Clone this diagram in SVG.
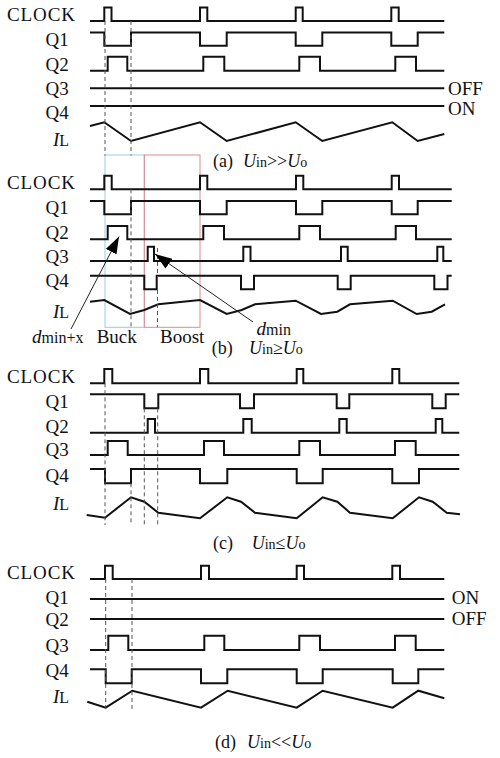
<svg xmlns="http://www.w3.org/2000/svg" width="500" height="758" viewBox="0 0 500 758">
<style>
.sig{fill:none;stroke:#111;stroke-width:2;stroke-linejoin:miter}
.dash{fill:none;stroke:#555;stroke-width:1;stroke-dasharray:4 3}
.lbl{font-family:"Liberation Serif","Times New Roman",serif;font-size:19px;fill:#111}
.cap{font-family:"Liberation Serif","Times New Roman",serif;font-size:18px;fill:#111}
.it{font-style:italic}
.sub{font-size:14px}
.lead{fill:none;stroke:#222;stroke-width:1}
</style>
<defs>
<marker id="ah" viewBox="0 0 17 12" refX="17" refY="6" markerWidth="17" markerHeight="12" markerUnits="userSpaceOnUse" orient="auto">
<path d="M0,0 L17,6 L0,12 Z" fill="#000"/>
</marker>
</defs>
<rect width="500" height="758" fill="#fff"/>

<!-- Panel (a) -->
<g id="panel-a">
<g id="a-labels">
<text class="lbl" x="7" y="20.7" textLength="68">CLOCK</text>
<text class="lbl" x="45.5" y="45.7">Q1</text>
<text class="lbl" x="45.5" y="70.7">Q2</text>
<text class="lbl" x="45.5" y="95">Q3</text>
<text class="lbl" x="45.5" y="119">Q4</text>
<text class="lbl" x="53" y="146"><tspan class="it">I</tspan><tspan font-size="16">L</tspan></text>
<text class="lbl" x="448" y="94.5">OFF</text>
<text class="lbl" x="448" y="115">ON</text>
</g>
<g id="a-signals">
<path class="sig" d="M90,21 H104.3 V7.5 H111.5 V21 H200 V7.5 H207.3 V21 H295.7 V7.5 H302.7 V21 H391.3 V7.5 H398.7 V21 H444.3"/>
<path class="sig" d="M90,32.5 H104.3 V45.7 H131 V32.5 H200 V45.7 H226.7 V32.5 H295.7 V45.7 H322.3 V32.5 H391.3 V45.7 H417.7 V32.5 H444.3"/>
<path class="sig" d="M90,70.7 H107.7 V56.7 H127.3 V70.7 H203.3 V56.7 H224.3 V70.7 H299.3 V56.7 H320 V70.7 H395.3 V56.7 H416 V70.7 H444.3"/>
<path class="sig" d="M90,88.3 H444.3"/>
<path class="sig" d="M90,106 H444.3"/>
<path class="sig" d="M90,126 L104.3,122.3 L131,141 L200,122.3 L226.7,141 L295.7,122.3 L322.3,141 L392.3,122.3 L417.7,141 L444.3,134"/>
</g>
<g id="a-dashes">
<path class="dash" d="M105,21 V156 M131,21 V156"/>
</g>
<text class="cap" x="213" y="167">(a)</text>
<text class="cap" x="243" y="167"><tspan class="it">U</tspan><tspan class="sub">in</tspan>&gt;&gt;<tspan class="it">U</tspan><tspan class="sub">o</tspan></text>
</g>

<!-- Panel (b) -->
<g id="panel-b">
<g id="b-boxes">
<rect x="105" y="155" width="39.3" height="172.3" fill="none" stroke="#9cc9e6" stroke-width="1"/>
<rect x="144.3" y="155" width="55.7" height="172.3" fill="none" stroke="#e08a8a" stroke-width="1"/>
</g>
<g id="b-labels">
<text class="lbl" x="7" y="189.3" textLength="68">CLOCK</text>
<text class="lbl" x="45.5" y="214.3">Q1</text>
<text class="lbl" x="45.5" y="239.3">Q2</text>
<text class="lbl" x="45.5" y="262.5">Q3</text>
<text class="lbl" x="45.5" y="286.5">Q4</text>
<text class="lbl" x="53" y="318"><tspan class="it">I</tspan><tspan font-size="16">L</tspan></text>
<text class="lbl" x="32" y="342.7"><tspan class="it">d</tspan><tspan font-size="16">min+x</tspan></text>
<text class="lbl" x="96.7" y="342.7">Buck</text>
<text class="lbl" x="160" y="342.7">Boost</text>
<text class="lbl" x="256.5" y="335"><tspan class="it">d</tspan><tspan font-size="16">min</tspan></text>
</g>
<g id="b-signals">
<path class="sig" d="M90,189.3 H104.3 V175.7 H111.7 V189.3 H200 V175.7 H207.3 V189.3 H296 V175.7 H303.3 V189.3 H391.7 V175.7 H399 V189.3 H451.7"/>
<path class="sig" d="M90,201 H104.3 V214.3 H131 V201 H200 V214.3 H226.7 V201 H296 V214.3 H322.3 V201 H391.7 V214.3 H417.7 V201 H451.7"/>
<path class="sig" d="M90,239.3 H107.7 V226 H127.3 V239.3 H203.3 V226 H224 V239.3 H299.3 V226 H320 V239.3 H395.7 V226 H416 V239.3 H451.7"/>
<path class="sig" d="M90,261 H147.7 V246.7 H154 V261 H243.3 V246.7 H250.5 V261 H341 V246.7 H347.7 V261 H437.3 V246.7 H443.3 V261 H451.7"/>
<path class="sig" d="M90,275.7 H144.3 V289.3 H156.7 V275.7 H241 V289.3 H254 V275.7 H337.7 V289.3 H350.7 V275.7 H434.3 V289.3 H447.5 V275.7 H451.7"/>
<path class="sig" d="M90,301.7 L104.3,300 L130,314 L144.3,310 L158.3,304.3 L200,300 L226.7,314 L241.7,310 L255,304.3 L295.7,300.7 L321,314 L337.3,311.7 L350,304.3 L392.7,300.7 L416.7,314 L431.7,311.7 L445,304.3"/>
</g>
<g id="b-dashes">
<path class="dash" d="M131,189.3 V327 M157.5,248 V327"/>
</g>
<g id="b-arrows">
<line class="lead" x1="71" y1="329" x2="119" y2="236.5" marker-end="url(#ah)"/>
<line class="lead" x1="253" y1="322" x2="155" y2="254" marker-end="url(#ah)"/>
</g>
<text class="cap" x="211.7" y="354">(b)</text>
<text class="cap" x="249" y="354"><tspan class="it">U</tspan><tspan class="sub">in</tspan>≥<tspan class="it">U</tspan><tspan class="sub">o</tspan></text>
</g>

<!-- Panel (c) -->
<g id="panel-c">
<g id="c-labels">
<text class="lbl" x="7" y="383.3" textLength="68">CLOCK</text>
<text class="lbl" x="45.5" y="408.3">Q1</text>
<text class="lbl" x="45.5" y="432.7">Q2</text>
<text class="lbl" x="45.5" y="456">Q3</text>
<text class="lbl" x="45.5" y="482">Q4</text>
<text class="lbl" x="53" y="510"><tspan class="it">I</tspan><tspan font-size="16">L</tspan></text>
</g>
<g id="c-signals">
<path class="sig" d="M90,383.3 H104.3 V369 H112.3 V383.3 H200 V369 H208.3 V383.3 H296.7 V369 H303.3 V383.3 H392.3 V369 H399.3 V383.3 H459.3"/>
<path class="sig" d="M90,394.3 H144.3 V408.3 H158.3 V394.3 H240 V408.3 H254 V394.3 H336.7 V408.3 H349.3 V394.3 H432.3 V408.3 H445.7 V394.3 H459.3"/>
<path class="sig" d="M90,432.7 H147.7 V419 H155 V432.7 H243.3 V419 H251.7 V432.7 H339.3 V419 H346.7 V432.7 H435.7 V419 H442.3 V432.7 H459.3"/>
<path class="sig" d="M90,455 H107.7 V441 H127.7 V455 H204 V441 H224 V455 H299.3 V441 H320 V455 H395 V441 H415.7 V455 H459.3"/>
<path class="sig" d="M90,469 H105 V483.3 H131 V469 H200 V483.3 H227.3 V469 H296.7 V483.3 H322.7 V469 H392.3 V483.3 H419 V469 H459.3"/>
<path class="sig" d="M86.7,515 L105,517.7 L131,497.3 L144.3,501.7 L158.3,512.7 L200,518.3 L227.3,497.3 L241,501.7 L255,512.7 L296.7,518.3 L322.7,497.3 L337.3,501.7 L350,512.7 L392.7,518.3 L419,497.3 L432.7,501.7 L446.7,512.7 L460,514.3"/>
</g>
<g id="c-dashes">
<path class="dash" d="M105,383.3 V525 M131,483.3 V525 M144.3,408.3 V525 M157.7,408.3 V525"/>
</g>
<text class="cap" x="213" y="549">(c)</text>
<text class="cap" x="251.7" y="549"><tspan class="it">U</tspan><tspan class="sub">in</tspan>≤<tspan class="it">U</tspan><tspan class="sub">o</tspan></text>
</g>

<!-- Panel (d) -->
<g id="panel-d">
<g id="d-labels">
<text class="lbl" x="7" y="579" textLength="68">CLOCK</text>
<text class="lbl" x="45.5" y="604">Q1</text>
<text class="lbl" x="45.5" y="626">Q2</text>
<text class="lbl" x="45.5" y="652">Q3</text>
<text class="lbl" x="45.5" y="677">Q4</text>
<text class="lbl" x="53" y="703"><tspan class="it">I</tspan><tspan font-size="16">L</tspan></text>
<text class="lbl" x="451.7" y="604.3">ON</text>
<text class="lbl" x="451.7" y="625">OFF</text>
</g>
<g id="d-signals">
<path class="sig" d="M90,579 H105 V565.7 H112.7 V579 H201 V565.7 H209 V579 H296.7 V565.7 H304 V579 H392.3 V565.7 H400 V579 H444.3"/>
<path class="sig" d="M90,599 H444.3"/>
<path class="sig" d="M90,619 H444.3"/>
<path class="sig" d="M90,650 H108.3 V635.7 H128.3 V650 H204.3 V635.7 H224.3 V650 H299.3 V635.7 H320 V650 H395 V635.7 H415.7 V650 H444.3"/>
<path class="sig" d="M90,669.3 H105.7 V683.3 H131.7 V669.3 H201 V683.3 H227.3 V669.3 H296.7 V683.3 H322.7 V669.3 H392.7 V683.3 H418.3 V669.3 H444.3"/>
<path class="sig" d="M87.3,701.7 L105.7,707.7 L132.3,690.7 L201,707.7 L227.7,690.7 L296.7,707.7 L322.7,690.7 L392.7,707.7 L418.3,690.7 L444.3,698.3"/>
</g>
<g id="d-dashes">
<path class="dash" d="M105.7,579 V711 M132,579 V711"/>
</g>
<text class="cap" x="215" y="748">(d)</text>
<text class="cap" x="247" y="748"><tspan class="it">U</tspan><tspan class="sub">in</tspan>&lt;&lt;<tspan class="it">U</tspan><tspan class="sub">o</tspan></text>
</g>
</svg>
